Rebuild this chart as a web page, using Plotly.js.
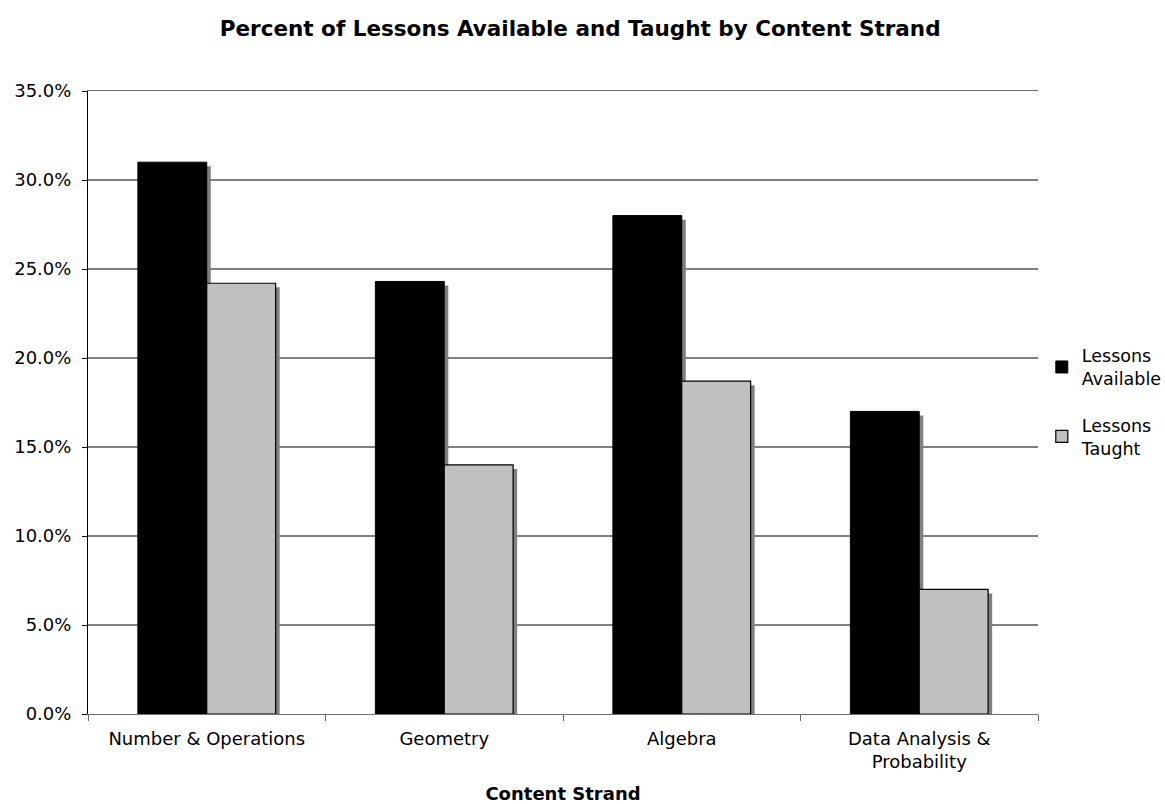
<!DOCTYPE html>
<html>
<head>
<meta charset="utf-8">
<script src="https://cdn.plot.ly/plotly-3.0.1.min.js"></script>
<style>html,body{margin:0;padding:0;background:#fff;}#chart{width:1165px;height:804px;}</style>
</head>
<body>
<div id="chart"></div>
<script>
const categories = ["Number & Operations", "Geometry", "Algebra", "Data Analysis &<br>Probability"];
const lessonsAvailable = [31.0, 24.3, 28.0, 17.0];
const lessonsTaught = [24.2, 14.0, 18.7, 7.0];
const yTickVals = [0, 5, 10, 15, 20, 25, 30, 35];
const yTickText = ["0.0%", "5.0%", "10.0%", "15.0%", "20.0%", "25.0%", "30.0%", "35.0%"];

const FONT = "DejaVu Sans, Verdana, sans-serif";
const barW = 0.29;
const shadowDx = 0.017;   // ~4px in category units
const shadowDy = -0.23;   // ~4px in value units

function shadow(vals, off) {
  return {
    type: "bar", x: categories, y: vals, base: vals.map(() => shadowDy),
    width: barW, offset: off + shadowDx,
    marker: {color: "#808080", line: {width: 0}},
    showlegend: false, hoverinfo: "skip"
  };
}

const data = [
  shadow(lessonsAvailable, -barW),
  shadow(lessonsTaught, 0),
  {
    type: "bar", name: "Lessons<br>Available", x: categories, y: lessonsAvailable,
    width: barW, offset: -barW, legendgroup: "a",
    marker: {color: "#000000", line: {color: "#000000", width: 1}}
  },
  {
    type: "bar", name: "Lessons<br>Taught", x: categories, y: lessonsTaught,
    width: barW, offset: 0, legendgroup: "b",
    marker: {color: "#c0c0c0", line: {color: "#000000", width: 1.2}}
  }
];

const layout = {
  width: 1165, height: 804,
  paper_bgcolor: "#ffffff", plot_bgcolor: "#ffffff",
  margin: {l: 88, r: 127, t: 91, b: 89.5, autoexpand: false},
  font: {family: FONT, color: "#000000", size: 18},
  title: {
    text: "<b>Percent of Lessons Available and Taught by Content Strand</b>",
    font: {family: FONT, size: 21.5, color: "#000000"},
    x: 0.498, xanchor: "center", y: 0.965, yanchor: "middle"
  },
  barmode: "overlay",
  showlegend: true,
  legend: {
    x: 1.004, xanchor: "left", y: 0.604, yanchor: "top",
    font: {family: FONT, size: 17.5, color: "#000000"},
    bgcolor: "rgba(0,0,0,0)", itemwidth: 30,
    traceorder: "grouped", tracegroupgap: 21
  },
  xaxis: {
    type: "category",
    range: [-0.5, 3.5],
    tickson: "boundaries",
    ticks: "outside", ticklen: 6, tickcolor: "#606060", tickwidth: 1,
    showline: true, mirror: true, linecolor: "#707070", linewidth: 1.3,
    showgrid: false, zeroline: false,
    ticklabelstandoff: 8,
    tickfont: {family: FONT, size: 18, color: "#000000"},
    title: {text: "<b>Content Strand</b>", font: {family: FONT, size: 18, color: "#000000"}, standoff: 36},
    fixedrange: true
  },
  yaxis: {
    range: [0, 35],
    tickvals: yTickVals, ticktext: yTickText,
    ticks: "outside", ticklen: 5, tickcolor: "#000000",
    showline: true, linecolor: "#000000", linewidth: 1,
    showgrid: true, gridcolor: "#808080", gridwidth: 1.3,
    zeroline: false,
    ticklabelstandoff: 7,
    tickfont: {family: FONT, size: 18, color: "#000000"},
    fixedrange: true
  }
};

Plotly.newPlot("chart", data, layout, {displayModeBar: false, staticPlot: true});
</script>
</body>
</html>
